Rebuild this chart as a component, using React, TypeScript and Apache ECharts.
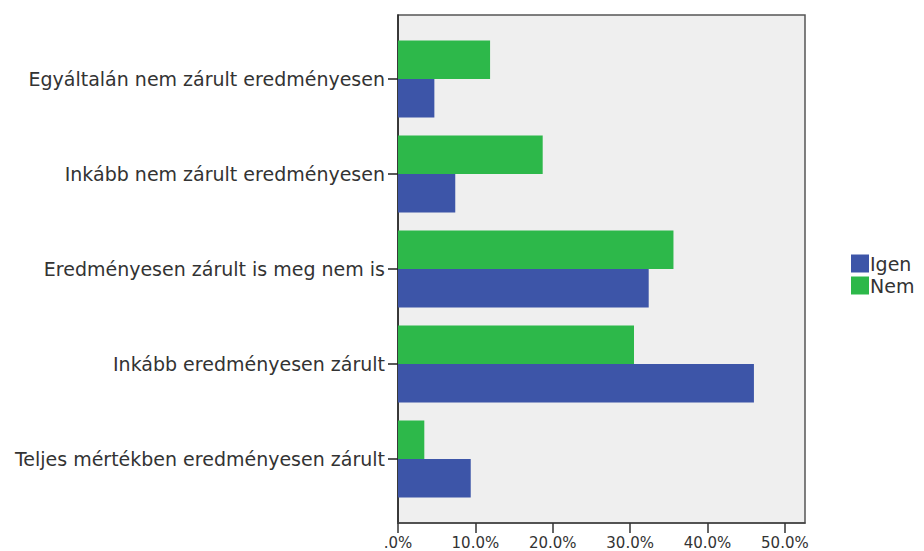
import React, { useEffect, useRef } from "react";
import * as echarts from "echarts";

const categories = [
  "Egyáltalán nem zárult eredményesen",
  "Inkább nem zárult eredményesen",
  "Eredményesen zárult is meg nem is",
  "Inkább eredményesen zárult",
  "Teljes mértékben eredményesen zárult",
];
const igenValues = [4.7, 7.4, 32.4, 46.0, 9.4];
const nemValues = [11.9, 18.7, 35.6, 30.5, 3.4];
const tickValues = [0, 10, 20, 30, 40, 50];
const legendNames = ["Igen", "Nem"];

const AXIS_MAX = 52.6;
const FONT = "DejaVu Sans, Arial, sans-serif";

export default function App() {
  const ref = useRef<HTMLDivElement>(null);
  useEffect(() => {
    document.body.style.margin = "0";
    const chart = echarts.init(ref.current!, null, { renderer: "svg" });
    chart.setOption({
      animation: false,
      backgroundColor: "#ffffff",
      textStyle: { fontFamily: FONT },
      legend: {
        orient: "vertical",
        left: 846,
        top: 249,
        itemWidth: 18,
        itemHeight: 18,
        itemGap: 3,
        icon: "rect",
        textStyle: { fontSize: 19, color: "#333", padding: [0, 0, 0, -4] },
        data: legendNames,
      },
      grid: [
        {
          left: 398,
          top: 15,
          width: 407,
          height: 508,
          show: true,
          backgroundColor: "#efefef",
          borderColor: "#555",
          borderWidth: 1.5,
        },
        { left: 398, top: 31.5, width: 407, height: 475 },
      ],
      xAxis: [
        {
          gridIndex: 0,
          type: "value",
          min: 0,
          max: AXIS_MAX,
          interval: 10,
          splitLine: { show: false },
          axisLine: { show: true, lineStyle: { color: "#444", width: 1.5 } },
          axisTick: {
            show: true,
            length: 10,
            lineStyle: { color: "#333", width: 1.5 },
            customValues: tickValues,
          },
          axisLabel: {
            fontSize: 15,
            color: "#333",
            margin: 12,
            customValues: tickValues,
            formatter: (v: number) => (v === 0 ? ".0%" : v.toFixed(1) + "%"),
          },
        },
        {
          gridIndex: 1,
          type: "value",
          min: 0,
          max: AXIS_MAX,
          show: false,
          splitLine: { show: false },
        },
      ],
      yAxis: [
        {
          gridIndex: 0,
          type: "value",
          min: 0,
          max: 1,
          axisLine: { show: true, lineStyle: { color: "#222", width: 1.5 } },
          axisTick: { show: false },
          axisLabel: { show: false },
          splitLine: { show: false },
        },
        {
          gridIndex: 1,
          type: "category",
          data: categories,
          inverse: true,
          axisLine: { show: false },
          axisTick: {
            show: true,
            length: 10,
            alignWithLabel: true,
            lineStyle: { color: "#222", width: 1.5 },
          },
          axisLabel: { fontSize: 19, color: "#333", margin: 13, padding: [4, 0, 0, 0] },
        },
      ],
      series: [
        {
          name: "Nem",
          type: "bar",
          xAxisIndex: 1,
          yAxisIndex: 1,
          data: nemValues,
          barGap: "0%",
          barCategoryGap: "19%",
          itemStyle: { color: "#2db84a" },
        },
        {
          name: "Igen",
          type: "bar",
          xAxisIndex: 1,
          yAxisIndex: 1,
          data: igenValues,
          barGap: "0%",
          barCategoryGap: "19%",
          itemStyle: { color: "#3d55a8" },
        },
      ],
    });
    return () => chart.dispose();
  }, []);
  return <div ref={ref} style={{ width: 924, height: 551 }} />;
}
